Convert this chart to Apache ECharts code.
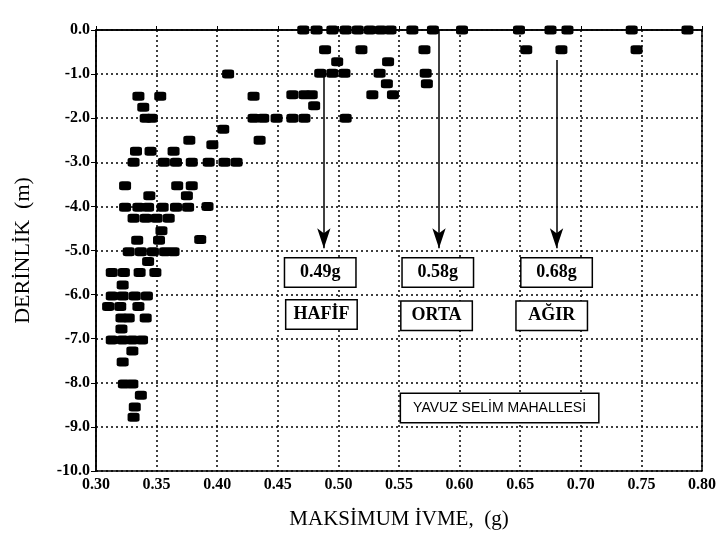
<!DOCTYPE html>
<html>
<head>
<meta charset="utf-8">
<script src="https://cdn.jsdelivr.net/npm/echarts@6/dist/echarts.min.js"></script>
<style>
  html, body { margin: 0; padding: 0; background: #fff; }
  #main { width: 720px; height: 541px; }
</style>
</head>
<body>
<div id="main"></div>
<script>
// olculen noktalar [ivme (g), derinlik (m)]
const surfacePoints = [
  [0.471, 0], [0.482, 0], [0.495, 0], [0.506, 0], [0.516, 0], [0.526, 0],
  [0.535, 0], [0.543, 0], [0.561, 0], [0.578, 0], [0.602, 0],
  [0.649, 0], [0.675, 0], [0.689, 0], [0.742, 0], [0.788, 0]
];
const shallowPoints = [
  [0.489, -0.45], [0.519, -0.45], [0.571, -0.45], [0.655, -0.45], [0.684, -0.45], [0.746, -0.45],
  [0.499, -0.72], [0.541, -0.72],
  [0.485, -0.98], [0.495, -0.98], [0.505, -0.98], [0.534, -0.98], [0.572, -0.98], [0.409, -1.0],
  [0.54, -1.22], [0.573, -1.22],
  [0.335, -1.5], [0.353, -1.5], [0.43, -1.5], [0.462, -1.47], [0.472, -1.47], [0.478, -1.47],
  [0.528, -1.47], [0.545, -1.47],
  [0.339, -1.75], [0.48, -1.72],
  [0.341, -2.0], [0.346, -2.0], [0.43, -2.0], [0.438, -2.0], [0.449, -2.0],
  [0.462, -2.0], [0.472, -2.0], [0.506, -2.0],
  [0.405, -2.25], [0.377, -2.5], [0.396, -2.6], [0.435, -2.5],
  [0.333, -2.75], [0.345, -2.75], [0.364, -2.75],
  [0.331, -3.0], [0.356, -3.0], [0.366, -3.0], [0.379, -3.0], [0.393, -3.0], [0.406, -3.0], [0.416, -3.0]
];
const middlePoints = [
  [0.324, -3.53], [0.367, -3.53], [0.379, -3.53],
  [0.344, -3.76], [0.375, -3.76],
  [0.324, -4.02], [0.335, -4.02], [0.343, -4.02], [0.355, -4.02], [0.366, -4.02], [0.376, -4.02], [0.392, -4.0],
  [0.331, -4.27], [0.341, -4.27], [0.35, -4.27], [0.36, -4.27],
  [0.354, -4.55],
  [0.334, -4.77], [0.352, -4.77], [0.386, -4.75],
  [0.327, -5.03], [0.337, -5.03], [0.347, -5.03], [0.357, -5.03], [0.364, -5.03],
  [0.343, -5.25]
];
const deepPoints = [
  [0.313, -5.5], [0.323, -5.5], [0.336, -5.5], [0.349, -5.5],
  [0.322, -5.78],
  [0.313, -6.03], [0.322, -6.03], [0.332, -6.03], [0.342, -6.03],
  [0.31, -6.27], [0.32, -6.27], [0.335, -6.27],
  [0.321, -6.53], [0.327, -6.53], [0.341, -6.53],
  [0.321, -6.78],
  [0.313, -7.03], [0.322, -7.03], [0.33, -7.03], [0.338, -7.03],
  [0.33, -7.28], [0.322, -7.53],
  [0.323, -8.03], [0.33, -8.03], [0.337, -8.28], [0.332, -8.55], [0.331, -8.78]
];

// siddet sinirlari (oklar)
const arrows = [
  [[0.488, -0.92], [0.488, -4.95]],
  [[0.583, 0], [0.583, -4.95]],
  [[0.68, -0.68], [0.68, -4.95]]
];

// kutular
const boxLabels = ['0.49g', '0.58g', '0.68g', 'HAFİF', 'ORTA', 'AĞIR'];
const boxPos = [
  [0.485, -5.5], [0.582, -5.5], [0.68, -5.5],
  [0.486, -6.45], [0.581, -6.48], [0.676, -6.48]
];
const siteLabel = 'YAVUZ SELİM MAHALLESİ';
const sitePos = [0.633, -8.57];

const serif = '"Liberation Serif", "DejaVu Serif", serif';

const chart = echarts.init(document.getElementById('main'));

const pts = surfacePoints.concat(shallowPoints, middlePoints, deepPoints);

const option = {
  backgroundColor: '#fff',
  animation: false,
  grid: {
    left: 96, right: 18, top: 30, bottom: 70,
    show: true, borderColor: '#000', borderWidth: 1.5
  },
  xAxis: {
    type: 'value',
    min: 0.30, max: 0.80, interval: 0.05,
    name: 'MAKSİMUM İVME,  (g)',
    nameLocation: 'middle', nameGap: 38,
    nameTextStyle: { fontFamily: serif, fontSize: 21, color: '#000' },
    axisLine: { show: true, lineStyle: { color: '#000', width: 1.5 } },
    axisTick: { show: true, inside: true, length: 4, lineStyle: { color: '#000' } },
    axisLabel: {
      fontFamily: serif, fontWeight: 'bold', fontSize: 16, color: '#000', margin: 6,
      formatter: v => v.toFixed(2)
    },
    splitLine: { show: true, lineStyle: { color: '#000', type: [2, 3], width: 1.5 } }
  },
  yAxis: {
    type: 'value',
    min: -10, max: 0, interval: 1,
    name: 'DERİNLİK  (m)',
    nameLocation: 'middle', nameGap: 62, nameRotate: 90,
    nameTextStyle: { fontFamily: serif, fontSize: 22, color: '#000' },
    axisLine: { show: true, lineStyle: { color: '#000', width: 1.5 } },
    axisTick: { show: true, length: 5, lineStyle: { color: '#000' } },
    axisLabel: {
      fontFamily: serif, fontWeight: 'bold', fontSize: 16, color: '#000', margin: 6,
      formatter: v => v.toFixed(1)
    },
    splitLine: { show: true, lineStyle: { color: '#000', type: [2, 3], width: 1.5 } }
  },
  series: [
    {
      type: 'scatter',
      data: pts,
      symbol: 'roundRect',
      symbolSize: [12, 9],
      itemStyle: { color: '#000', opacity: 1 },
      z: 5,
      markLine: {
        silent: true,
        symbol: ['none', 'arrow'],
        symbolSize: [10, 20],
        label: { show: false },
        lineStyle: { color: '#000', width: 1.5, type: 'solid', opacity: 1 },
        data: arrows.map(a => [{ coord: a[0] }, { coord: a[1] }])
      }
    },
    {
      type: 'scatter',
      symbolSize: 0,
      z: 10,
      itemStyle: { opacity: 1 },
      data: boxLabels.map((t, i) => ({ value: boxPos[i], name: t })),
      label: {
        show: true,
        position: 'inside',
        formatter: p => p.name,
        fontFamily: serif,
        fontSize: 18,
        fontWeight: 'bold',
        color: '#000',
        opacity: 1,
        backgroundColor: '#fff',
        borderColor: '#000',
        borderWidth: 1.5,
        width: 58,
        height: 22,
        lineHeight: 22,
        padding: [3, 6],
        align: 'center'
      }
    },
    {
      type: 'scatter',
      symbolSize: 0,
      z: 10,
      itemStyle: { opacity: 1 },
      data: [{ value: sitePos, name: siteLabel }],
      label: {
        show: true,
        position: 'inside',
        formatter: p => p.name,
        fontFamily: '"Liberation Sans", Arial, sans-serif',
        fontSize: 14,
        color: '#000',
        opacity: 1,
        backgroundColor: '#fff',
        borderColor: '#000',
        borderWidth: 1.5,
        padding: [7, 12]
      }
    }
  ]
};

chart.setOption(option);
</script>
</body>
</html>
